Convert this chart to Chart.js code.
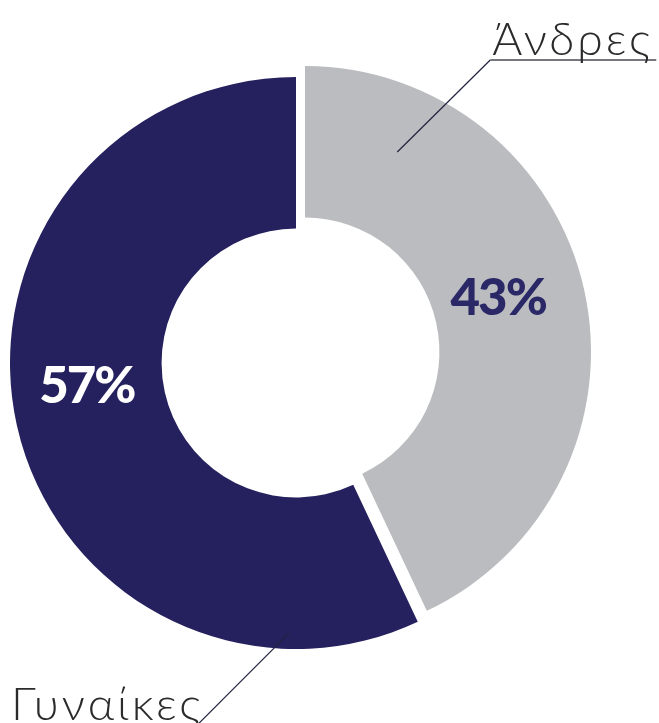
<!DOCTYPE html>
<html>
<head>
<meta charset="utf-8">
<script src="https://cdn.jsdelivr.net/npm/chart.js@4.4.1/dist/chart.umd.min.js"></script>
<style>
  html, body { margin: 0; padding: 0; background: #ffffff; }
  #wrap { width: 659px; height: 723px; position: relative; }
</style>
</head>
<body>
<div id="wrap"><canvas id="c" width="659" height="723"></canvas></div>
<script>
// ---- data ----
const categories = ['Άνδρες', 'Γυναίκες'];
const values = [43, 57];
const valueLabels = ['43%', '57%'];

// ---- styles ----
const sliceColors = ['#bbbcbf', '#25215e'];
const pctColors = ['#2a2866', '#ffffff'];
const sliceShift = [[9, -11], [0, 0]];        // per-slice explode shift (px)
const pctNudge = [[-12, -8], [-4, -22]];       // label nudges from arc centre point
// callout: anchor on arc (fraction of sweep, fraction of outer radius), elbow offset, text
const callouts = [
  { frac: 0.16, rfrac: 0.77, elbow: [93, -92], lineLen: 166, textDx: 2, textDy: -5, underline: true },
  { frac: 0.13, rfrac: 0.945, elbow: [-92, 92], lineLen: 0, textDx: -186, textDy: -5, underline: false }
];

const explodePlugin = {
  id: 'explode',
  beforeDatasetDraw(chart, args) {
    const ctx = chart.ctx;
    const meta = args.meta;
    meta.data.forEach((arc, i) => {
      ctx.save();
      ctx.translate(sliceShift[i][0], sliceShift[i][1]);
      arc.draw(ctx, chart.chartArea);
      ctx.restore();
    });
    return false;
  }
};

const labelPlugin = {
  id: 'labels',
  afterDatasetsDraw(chart) {
    const ctx = chart.ctx;
    const meta = chart.getDatasetMeta(0);
    meta.data.forEach((arc, i) => {
      const p = arc.getCenterPoint();
      const x = p.x + sliceShift[i][0] + pctNudge[i][0];
      const y = p.y + sliceShift[i][1] + pctNudge[i][1];
      ctx.save();
      ctx.font = '900 51px Lato, "DejaVu Sans", sans-serif';
      ctx.fillStyle = pctColors[i];
      ctx.textAlign = 'center';
      ctx.textBaseline = 'middle';
      if ('letterSpacing' in ctx) ctx.letterSpacing = '-2px';
      ctx.fillText(valueLabels[i], x, y);
      ctx.restore();

      // callouts
      const c = callouts[i];
      const ang = arc.startAngle + c.frac * (arc.endAngle - arc.startAngle);
      const r = arc.outerRadius * c.rfrac;
      const ax = arc.x + sliceShift[i][0] + Math.cos(ang) * r;
      const ay = arc.y + sliceShift[i][1] + Math.sin(ang) * r;
      const ex = ax + c.elbow[0];
      const ey = ay + c.elbow[1];
      ctx.save();
      ctx.strokeStyle = '#1f2340';
      ctx.lineWidth = 1.2;
      ctx.beginPath();
      ctx.moveTo(ax, ay);
      ctx.lineTo(ex, ey);
      ctx.stroke();
      if (c.underline) {
        ctx.strokeStyle = '#4a4a55';
        ctx.lineWidth = 1.6;
        ctx.beginPath();
        ctx.moveTo(ex, ey);
        ctx.lineTo(ex + c.lineLen, ey);
        ctx.stroke();
      }
      ctx.font = '300 46px Lato, "Open Sans", sans-serif';
      if ('letterSpacing' in ctx) ctx.letterSpacing = '3px';
      ctx.fillStyle = '#2b2b2b';
      ctx.textAlign = 'left';
      ctx.textBaseline = 'alphabetic';
      ctx.fillText(categories[i], ex + c.textDx, ey + c.textDy);
      ctx.restore();
    });
  }
};

new Chart(document.getElementById('c'), {
  type: 'doughnut',
  data: {
    labels: categories,
    datasets: [{
      data: values,
      backgroundColor: sliceColors,
      borderWidth: 0,
      hoverOffset: 0
    }]
  },
  options: {
    responsive: false,
    animation: false,
    cutout: '47%',
    layout: { padding: { left: 10, top: 77, right: 77, bottom: 74 } },
    plugins: {
      legend: { display: false },
      tooltip: { enabled: false }
    },
    events: []
  },
  plugins: [explodePlugin, labelPlugin]
});
</script>
</body>
</html>
